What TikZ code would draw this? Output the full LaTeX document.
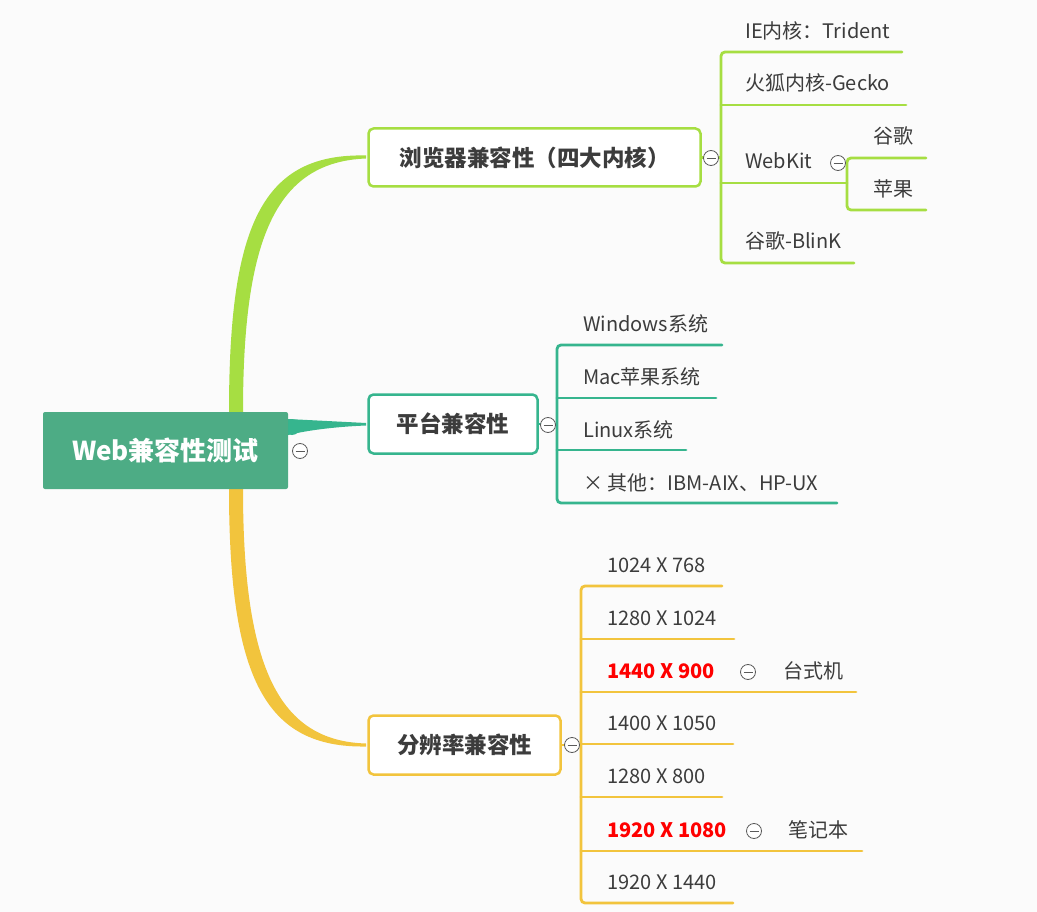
\documentclass[tikz,border=0pt]{standalone}
\usepackage{fontspec}
\setmainfont{Noto Sans CJK SC}
\definecolor{bg}{RGB}{251,251,251}
\definecolor{lgreen}{RGB}{166,222,66}
\definecolor{teal}{RGB}{54,181,142}
\definecolor{yell}{RGB}{242,196,61}
\definecolor{rootg}{RGB}{77,172,133}
\definecolor{txt}{RGB}{60,60,60}
\definecolor{cgray}{RGB}{90,90,90}
\tikzset{
  rootbox/.style={fill=rootg, rounded corners=2pt, text=white, font=\bfseries\fontsize{26}{30}\selectfont, minimum width=245, minimum height=77, inner sep=0},
  titlebox/.style={draw, line width=2.5pt, rounded corners=5pt, fill=white, text=txt, font=\bfseries\fontsize{22.5}{26}\selectfont, inner sep=0},
  leaf/.style={anchor=base west, inner sep=0pt, text=txt, font=\fontsize{20}{24}\selectfont},
  redleaf/.style={leaf, text=red, font=\bfseries\fontsize{20}{24}\selectfont},
  bar/.style={line width=2.8pt, rounded corners=4pt, line cap=round},
  collapse/.pic={\draw[cgray, line width=0.8pt, fill=white] (0,0) circle (7.5); \draw[cgray, line width=0.8pt] (-4.5,0) -- (4.5,0);}
}
\begin{document}
\begin{tikzpicture}[x=1pt,y=-1pt]
\fill[bg] (0,0) rectangle (1037,912);
\useasboundingbox (0,0) rectangle (1037,912);

% branches from root
\fill[lgreen] (229,412) .. controls (229,225) and (262,153) .. (366,155.5) -- (366,158.5) .. controls (275,162) and (243,240) .. (243,412) -- cycle;
\fill[lgreen] (236,412) circle (7);
\fill[yell] (229,489) .. controls (229,680) and (266,748) .. (366,746.5) -- (366,743.5) .. controls (280,741) and (243,670) .. (243,489) -- cycle;
\fill[yell] (236,489) circle (7);
\fill[teal] (288,419) -- (366,423) -- (366,425.5) .. controls (330,427) and (305,431) .. (288,435) -- cycle;
\fill[teal] (292,427) circle (8);

% root
\node[rootbox] (root) at (165.5,450.5) {Web兼容性测试};
\pic at (300,451) {collapse};

% titles
\node[titlebox, draw=lgreen, minimum width=332, minimum height=58] (b1) at (534.5,157.5) {浏览器兼容性（四大内核）};
\node[titlebox, draw=teal, minimum width=169, minimum height=59] (b2) at (453,424) {平台兼容性};
\node[titlebox, draw=yell, minimum width=192, minimum height=59] (b3) at (464.5,745) {分辨率兼容性};

% browser children
\draw[bar, lgreen] (902,52) -- (721,52) -- (721,263) -- (854,263);
\draw[bar, lgreen] (721,105) -- (906,105);
\draw[bar, lgreen] (721,183) -- (847,183);
\draw[bar, lgreen] (926,158) -- (847,158) -- (847,210) -- (926,210);
\draw[lgreen, line width=2.6pt] (b1.east) -- (721,157.5);
\pic at (711,158) {collapse};
\pic at (838,163) {collapse};
\node[leaf] (ie) at (745,39) {IE内核：Trident};
\node[leaf] (gecko) at (745,91) {火狐内核-Gecko};
\node[leaf] (webkit) at (745,169) {WebKit};
\node[leaf] (blink) at (745,249) {谷歌-BlinK};
\node[leaf] (wk1) at (873,144) {谷歌};
\node[leaf] (wk2) at (873,197) {苹果};

% platform children
\draw[bar, teal] (722,345) -- (557,345) -- (557,503) -- (837,503);
\draw[bar, teal] (557,398) -- (716,398);
\draw[bar, teal] (557,450) -- (686,450);
\draw[teal, line width=2.6pt] (b2.east) -- (557,424);
\pic at (548,425) {collapse};
\node[leaf] (win) at (583,331) {Windows系统};
\node[leaf] (mac) at (583,384) {Mac苹果系统};
\node[leaf] (linux) at (583,437) {Linux系统};
\node[leaf] (other) at (583,490) {× 其他：IBM-AIX、HP-UX};

% resolution children
\draw[bar, yell] (722,586) -- (581,586) -- (581,903) -- (733,903);
\draw[bar, yell] (581,639) -- (734,639);
\draw[bar, yell] (581,692) -- (856,692);
\draw[bar, yell] (581,744) -- (733,744);
\draw[bar, yell] (581,797) -- (722,797);
\draw[bar, yell] (581,851) -- (862,851);
\draw[yell, line width=2.6pt] (b3.east) -- (581,745);
\pic at (572,745) {collapse};
\pic at (748,672) {collapse};
\pic at (754,831) {collapse};
\node[leaf] (r1) at (607,572) {1024 X 768};
\node[leaf] (r2) at (607,625) {1280 X 1024};
\node[redleaf] (r3) at (607,678) {1440 X 900};
\node[leaf] (r4) at (607,730) {1400 X 1050};
\node[leaf] (r5) at (607,783) {1280 X 800};
\node[redleaf] (r6) at (607,837) {1920 X 1080};
\node[leaf] (r7) at (607,889) {1920 X 1440};
\node[leaf] (desk) at (783,678) {台式机};
\node[leaf] (note) at (788,837) {笔记本};
\end{tikzpicture}
\end{document}
